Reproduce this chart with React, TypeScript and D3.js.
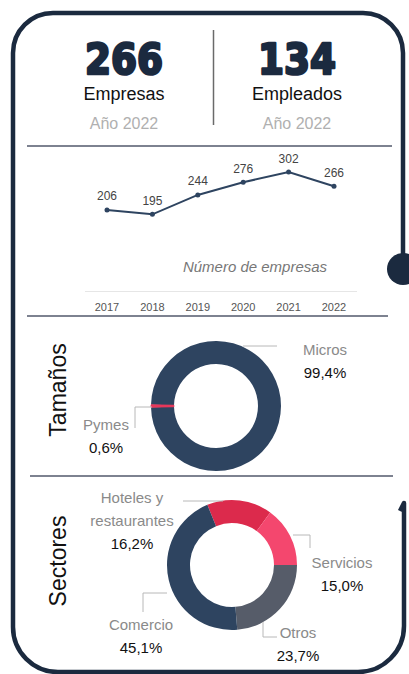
import React from "react";
import * as d3 from "d3";

// ---- data ----
const statValues = ["266", "134"];
const statLabels = ["Empresas", "Empleados"];
const statNotes = ["Año 2022", "Año 2022"];

const years = [2017, 2018, 2019, 2020, 2021, 2022];
const empresas = [206, 195, 244, 276, 302, 266];

const sizeNames = ["Pymes", "Micros"];
const sizeShares = [0.6, 99.4];
const sizeColors = ["#e8375a", "#2e4460"];

const sectorNames = [["Hoteles y", "restaurantes"], ["Servicios"], ["Otros"], ["Comercio"]];
const sectorShares = [16.2, 15.0, 23.7, 45.1];
const sectorColors = ["#dc2a4c", "#f4476e", "#565c69", "#2e4460"];

const NAVY = "#1b2a3f";
const FONT = "'Liberation Sans', Arial, sans-serif";
const pct = (v: number) => d3.format(".1f")(v).replace(".", ",") + "%";

type Lbl = { leader: [number, number][]; x: number; y: number };

function Donut({ cx, cy, shares, colors, names, startAngle, labels }: {
  cx: number; cy: number; shares: number[]; colors: string[]; names: string[][];
  startAngle: number; labels: Lbl[];
}) {
  const pie = d3.pie<number>().sort(null).value(d => d)
    .startAngle(startAngle).endAngle(startAngle + 2 * Math.PI);
  const arc = d3.arc<d3.PieArcDatum<number>>().innerRadius(42).outerRadius(65);
  const arcs = pie(shares);
  return (
    <g>
      <g transform={`translate(${cx},${cy})`}>
        {arcs.map((a, i) => <path key={i} d={arc(a) || ""} fill={colors[i]} />)}
        {/* keep very thin slices visible */}
        {arcs.filter(a => a.endAngle - a.startAngle < 0.1).map((a, i) => (
          <path key={"t" + i} d={arc(a) || ""} fill={colors[shares.indexOf(a.data)]}
            stroke={colors[shares.indexOf(a.data)]} strokeWidth={0.8} />
        ))}
      </g>
      {labels.map((l, i) => (
        <g key={i}>
          <polyline points={l.leader.map(p => `${cx + p[0]},${cy + p[1]}`).join(" ")}
            fill="none" stroke="#b8b8b8" strokeWidth={1} />
          {names[i].map((n, j) => (
            <text key={j} x={l.x} y={l.y + j * 22.5} textAnchor="middle" fontSize={15} fill="#8a8a8a">{n}</text>
          ))}
          <text x={l.x} y={l.y + names[i].length * 22.5 + 0.5} textAnchor="middle" fontSize={15} fill="#111">{pct(shares[i])}</text>
        </g>
      ))}
    </g>
  );
}

export default function App() {
  const x = d3.scaleLinear().domain([2017, 2022]).range([107, 334]);
  const y = d3.scaleLinear().domain([0, 302]).range([291.5, 172]);
  const line = d3.line<number>().x((_, i) => x(years[i])).y(d => y(d));

  const statX = [124, 297];
  const pymesHalf = (sizeShares[0] / 100) * Math.PI;

  return (
    <svg width={409} height={674} style={{ position: "absolute", left: 0, top: 0, background: "#fff" }} fontFamily={FONT}>
      {/* frame */}
      <path d="M 403 256 L 403 53 A 40 40 0 0 0 363 13 L 53 13 A 40 40 0 0 0 13 53 L 13 627 A 45 45 0 0 0 58 672 L 358 672 A 46 46 0 0 0 404 626 L 404 503 L 400 511"
        fill="none" stroke={NAVY} strokeWidth={4.5} strokeLinejoin="round" />
      <circle cx={403} cy={269} r={16} fill={NAVY} />

      {/* header stats */}
      {statValues.map((v, i) => (
        <g key={i}>
          <text x={statX[i]} y={74} textAnchor="middle" fontFamily="'DejaVu Sans', sans-serif" fontWeight={700}
            fontSize={42} fill={NAVY} stroke={NAVY} strokeWidth={2.6} strokeLinejoin="round"
            textLength={78} lengthAdjust="spacingAndGlyphs">{v}</text>
          <text x={statX[i]} y={100} textAnchor="middle" fontSize={18} fill="#111">{statLabels[i]}</text>
          <text x={statX[i]} y={129} textAnchor="middle" fontSize={16} fill="#b0b0b0">{statNotes[i]}</text>
        </g>
      ))}
      <line x1={213.5} x2={213.5} y1={30} y2={125} stroke="#6a6a6a" strokeWidth={1.5} />

      {/* separators */}
      <line x1={27} x2={392} y1={146} y2={146} stroke="#7d8290" strokeWidth={2} />
      <line x1={27} x2={388} y1={316} y2={316} stroke="#7d8290" strokeWidth={2} />
      <line x1={30} x2={393} y1={476} y2={476} stroke="#7d8290" strokeWidth={2} />

      {/* line chart */}
      <line x1={x.range()[0] - 22} x2={x.range()[1] + 23} y1={y(0)} y2={y(0)} stroke="#e6e6e6" strokeWidth={1} />
      <path d={line(empresas) || ""} fill="none" stroke="#2e4460" strokeWidth={2} />
      {empresas.map((v, i) => (
        <g key={i}>
          <circle cx={x(years[i])} cy={y(v)} r={2.5} fill="#2e4460" />
          <text x={x(years[i])} y={y(v) - 9.5} textAnchor="middle" fontSize={12} fill="#444">{v}</text>
          <text x={x(years[i])} y={y(0) + 19} textAnchor="middle" fontSize={11} fill="#555">{years[i]}</text>
        </g>
      ))}
      <text x={255} y={271.5} textAnchor="middle" fontSize={15} fontStyle="italic" fill="#777">Número de empresas</text>

      {/* Tamaños */}
      <text transform="translate(66,390) rotate(-90)" textAnchor="middle" fontSize={23} fill="#111">Tamaños</text>
      <Donut cx={216} cy={406} shares={sizeShares} colors={sizeColors} names={sizeNames.map(n => [n])}
        startAngle={1.5 * Math.PI - pymesHalf}
        labels={[
          { leader: [[-64, 1], [-81, 1], [-81, 22]], x: 106, y: 430 },
          { leader: [[27, -60], [61, -60]], x: 325, y: 355 },
        ]} />

      {/* Sectores */}
      <text transform="translate(66,561) rotate(-90)" textAnchor="middle" fontSize={23} fill="#111">Sectores</text>
      <Donut cx={232} cy={565} shares={sectorShares} colors={sectorColors} names={sectorNames}
        startAngle={(-22.3 * Math.PI) / 180}
        labels={[
          { leader: [[-9, -64], [-49, -64]], x: 132, y: 503 },
          { leader: [[61, -30], [78, -30], [78, -17]], x: 342, y: 568 },
          { leader: [[31, 57], [31, 72], [45, 72]], x: 298, y: 638 },
          { leader: [[-65, 28], [-89, 28], [-89, 47]], x: 141, y: 630 },
        ]} />
    </svg>
  );
}
